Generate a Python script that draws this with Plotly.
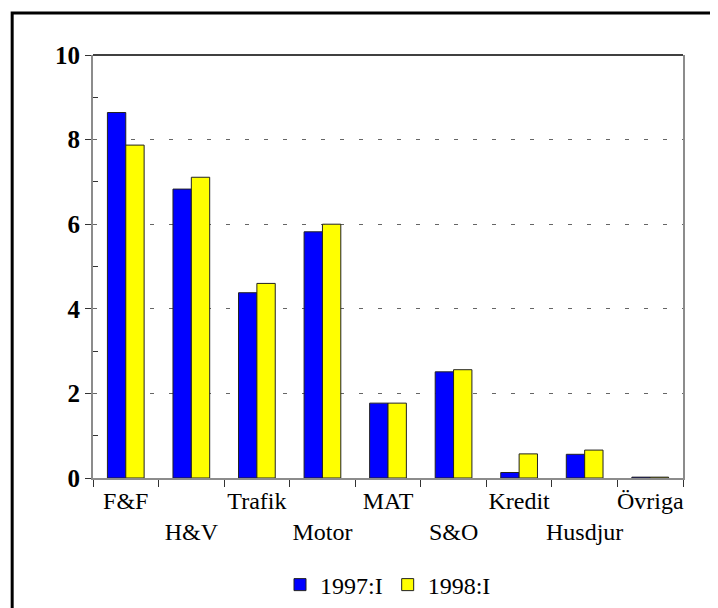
import plotly.graph_objects as go

# --- data ---
categories = ["F&F", "H&V", "Trafik", "Motor", "MAT", "S&O", "Kredit", "Husdjur", "Övriga"]
# every second label sits on a lower row
tick_labels = ["F&F", "<br>H&V", "Trafik", "<br>Motor", "MAT", "<br>S&O", "Kredit", "<br>Husdjur", "Övriga"]
values_1997 = [8.64, 6.83, 4.38, 5.82, 1.77, 2.51, 0.13, 0.56, 0.02]
values_1998 = [7.87, 7.11, 4.60, 6.00, 1.77, 2.56, 0.57, 0.66, 0.02]
series_names = ["1997:I", "1998:I"]

SERIF = "Liberation Serif, Times New Roman, serif"
GREY = "#8c8c8c"

fig = go.Figure()
for name, vals, col in [
    (series_names[0], values_1997, "#0000ff"),
    (series_names[1], values_1998, "#ffff00"),
]:
    fig.add_trace(go.Bar(
        x=categories, y=vals, name=name,
        marker=dict(color=col, line=dict(color="#222222", width=1)),
    ))

# the page body adds an 8px offset, so margins are trimmed by that much
fig.update_layout(
    width=718, height=608,
    margin=dict(l=85, r=43, t=47, b=138, autoexpand=False),
    paper_bgcolor="white", plot_bgcolor="white",
    barmode="group", bargap=0.44, bargroupgap=0,
    font=dict(family=SERIF, size=24, color="black"),
    showlegend=True,
    legend=dict(
        orientation="h", x=0.5, xanchor="center", y=-0.253, yanchor="middle",
        font=dict(family=SERIF, size=24), itemwidth=30, traceorder="normal",
    ),
    xaxis=dict(
        tickmode="array", tickvals=categories, ticktext=tick_labels,
        tickangle=0, automargin=False,
        tickson="boundaries", ticks="outside", ticklen=7, tickcolor="#333333",
        showline=True, linecolor=GREY, linewidth=2,
        showgrid=False, tickfont=dict(family=SERIF, size=24),
    ),
    yaxis=dict(
        range=[0, 10], tickvals=[0, 2, 4, 6, 8, 10], automargin=False,
        ticks="outside", ticklen=6, tickcolor="#333333",
        showline=True, linecolor=GREY, linewidth=2, mirror=True,
        showgrid=True, gridcolor="#666666", gridwidth=1, griddash="4px,15px",
        zeroline=False,
        tickfont=dict(family=SERIF, size=25, weight="bold"),
        minor=dict(tickvals=[1, 3, 5, 7, 9], ticks="inside", ticklen=5,
                   tickcolor="#333333", showgrid=False),
    ),
    shapes=[
        # solid black top edge of the plot area
        dict(type="line", xref="paper", yref="paper", x0=0, x1=1, y0=1, y1=1,
             line=dict(color="black", width=1.5)),
        # outer page frame, running off the right and bottom edges
        dict(type="rect", xref="paper", yref="paper",
             x0=-0.137, x1=1.2, y0=-0.5, y1=1.099,
             line=dict(color="black", width=3), layer="below"),
    ],
)

fig.write_html("out.html")
